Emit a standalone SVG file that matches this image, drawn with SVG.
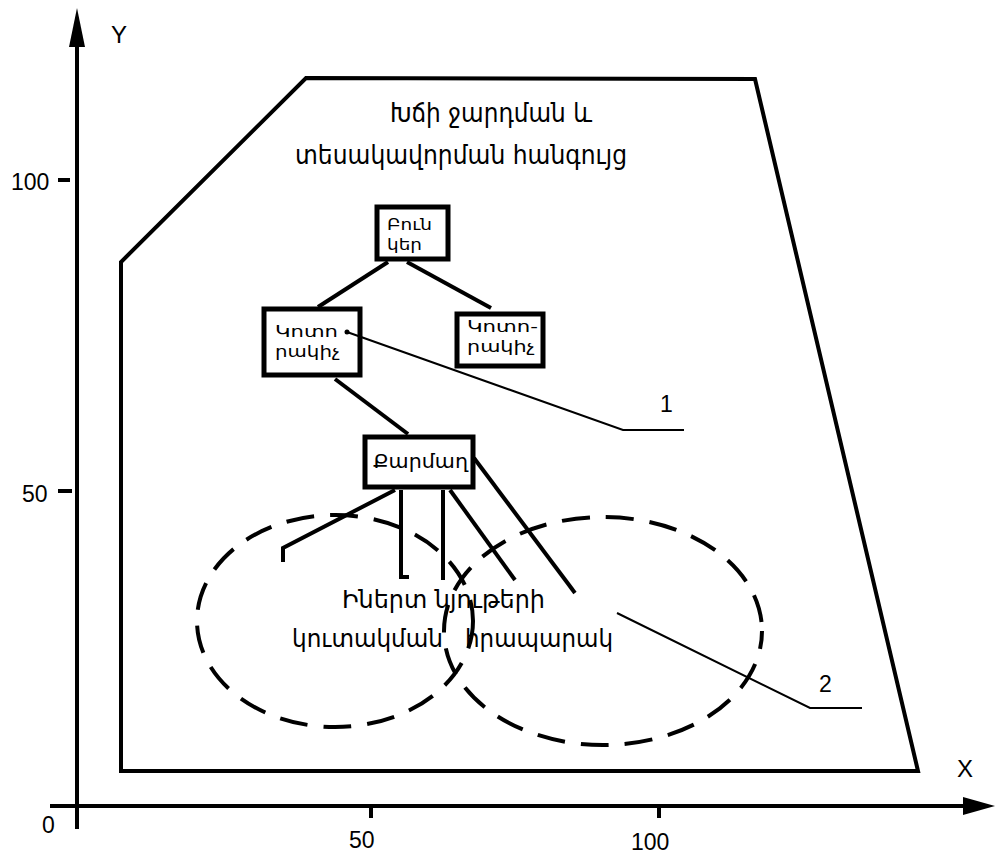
<svg xmlns="http://www.w3.org/2000/svg" width="996" height="857" viewBox="0 0 996 857">
<style>
.ax{stroke:#000;stroke-width:4;fill:none}
.frame{stroke:#000;stroke-width:4;fill:none;stroke-linejoin:miter}
.box{stroke:#000;stroke-width:5;fill:#fff}
.con{stroke:#000;stroke-width:4;fill:none;stroke-linecap:butt}
.lead{stroke:#000;stroke-width:2;fill:none}
.dash{stroke:#000;stroke-width:4;fill:none;stroke-dasharray:28 16}
.arm{font-family:"DejaVu Sans","Noto Sans",sans-serif;fill:#000}
.lab{font-family:"Liberation Sans",Arial,sans-serif;fill:#000}
</style>
<rect width="996" height="857" fill="#fff"/>
<g id="axes">
<line class="ax" x1="77" y1="40" x2="77" y2="829"/>
<polygon points="77,8 69,47 85,47" fill="#000"/>
<line class="ax" x1="50" y1="806" x2="970" y2="806"/>
<polygon points="995,806 963,797 963,815" fill="#000"/>
<line class="ax" x1="58" y1="180" x2="70" y2="180"/>
<line class="ax" x1="58" y1="491" x2="72" y2="491"/>
<line class="ax" x1="371" y1="806" x2="371" y2="818"/>
<line class="ax" x1="659" y1="806" x2="659" y2="818"/>
<text class="lab" x="111" y="43" font-size="24">Y</text>
<text class="lab" x="957" y="777" font-size="24">X</text>
<text class="lab" x="11" y="190" font-size="23">100</text>
<text class="lab" x="22" y="502" font-size="23">50</text>
<text class="lab" x="42" y="833" font-size="23">0</text>
<text class="lab" x="349" y="848" font-size="23">50</text>
<text class="lab" x="631" y="850" font-size="23">100</text>
</g>
<g id="site">
<polygon class="frame" points="121,771 121,262 306,78 755,79 918,771"/>
<text class="arm" x="390" y="122" font-size="27" textLength="202" lengthAdjust="spacingAndGlyphs">Խճի ջարդման և</text>
<text class="arm" x="295" y="164" font-size="27" textLength="332" lengthAdjust="spacingAndGlyphs">տեսակավորման հանգույց</text>
</g>
<g id="connectors">
<line class="con" x1="388" y1="262" x2="318" y2="307"/>
<line class="con" x1="407" y1="262" x2="491" y2="308"/>
<line class="con" x1="335" y1="379" x2="408" y2="434"/>
<polyline class="con" points="395,490 283,548 283,562"/>
<polyline class="con" points="401,490 401,577 409,577"/>
<line class="con" x1="443" y1="490" x2="443" y2="580"/>
<line class="con" x1="450" y1="490" x2="515" y2="580"/>
<line class="con" x1="474" y1="458" x2="575" y2="593"/>
</g>
<g id="stockpile">
<ellipse class="dash" cx="335" cy="621" rx="138" ry="106"/>
<ellipse class="dash" cx="603" cy="631" rx="159" ry="114" stroke-dashoffset="10"/>
<text class="arm" x="342" y="608" font-size="25" textLength="203" lengthAdjust="spacingAndGlyphs">Իներտ նյութերի</text>
<text class="arm" x="292" y="647" font-size="25" textLength="151" lengthAdjust="spacingAndGlyphs">կուտակման</text>
<text class="arm" x="465" y="647" font-size="25" textLength="148" lengthAdjust="spacingAndGlyphs">հրապարակ</text>
</g>
<g id="bunker">
<rect class="box" x="377" y="207" width="71" height="52"/>
<text class="arm" x="387" y="230" font-size="16" textLength="45" lengthAdjust="spacingAndGlyphs">Բուն</text>
<text class="arm" x="387" y="250" font-size="16" textLength="35" lengthAdjust="spacingAndGlyphs">կեր</text>
</g>
<g id="crusher1">
<rect class="box" x="264" y="309" width="96" height="66"/>
<text class="arm" x="275" y="337" font-size="16" textLength="63" lengthAdjust="spacingAndGlyphs">Կոտո</text>
<text class="arm" x="275" y="357" font-size="16" textLength="65" lengthAdjust="spacingAndGlyphs">րակիչ</text>
</g>
<g id="crusher2">
<rect class="box" x="457" y="314" width="86" height="52"/>
<text class="arm" x="467" y="332" font-size="16" textLength="71" lengthAdjust="spacingAndGlyphs">Կոտո-</text>
<text class="arm" x="467" y="352" font-size="16" textLength="68" lengthAdjust="spacingAndGlyphs">րակիչ</text>
</g>
<g id="screen">
<rect class="box" x="365" y="437" width="108" height="50"/>
<text class="arm" x="373" y="468" font-size="20" textLength="95" lengthAdjust="spacingAndGlyphs">Քարմաղ</text>
</g>
<g id="callouts">
<circle cx="347" cy="332" r="2.5" fill="#000"/>
<polyline class="lead" points="347,332 623,430 684,430"/>
<text class="lab" x="660" y="412" font-size="23">1</text>
<polyline class="lead" points="617,613 810,708 862,708"/>
<text class="lab" x="819" y="692" font-size="23">2</text>
</g>
</svg>
